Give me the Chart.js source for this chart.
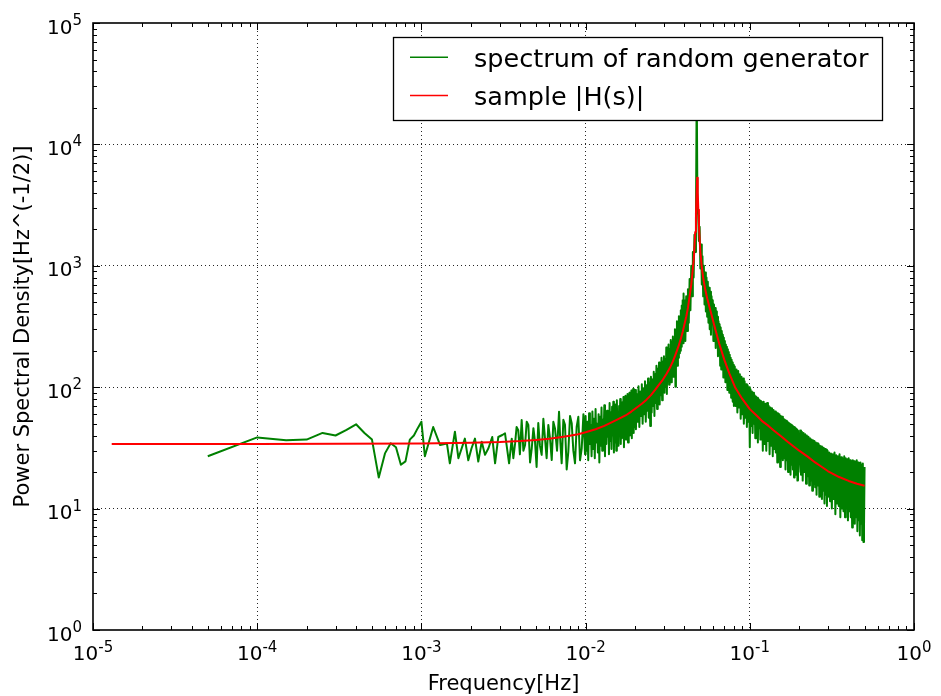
<!DOCTYPE html>
<html>
<head>
<meta charset="utf-8">
<script src="https://cdn.jsdelivr.net/npm/chart.js@4.4.1/dist/chart.umd.min.js"></script>
<style>
html,body{margin:0;padding:0;background:#fff;}
#wrap{width:941px;height:696px;position:relative;}
</style>
</head>
<body>
<div id="wrap"><canvas id="c" width="941" height="696"></canvas></div>
<script>
// ---------- text ----------
const seriesLabels = ['spectrum of random generator', 'sample |H(s)|'];
const xTitle = 'Frequency[Hz]';
const yTitle = 'Power Spectral Density[Hz^(-1/2)]';
const tickBase = '10';
const xTickExponents = [-5, -4, -3, -2, -1, 0];
const yTickExponents = [0, 1, 2, 3, 4, 5];
const minorMultipliers = [1, 2, 3, 4, 5, 6, 7, 8, 9];

// ---------- red: sample |H(s)|  (frequency in mHz) ----------
const redFreq_mHz = [0.013,0.1,1,2,3,4,5,6,7,8,9,
10,11.5,13,14.5,16,17.5,19,20.5,22,23.5,
25,26.5,28,29.5,31,32.5,34,35,36,37,
38,39,40,41,42,43,44,45,45.5,46,
46.5,47,47.4,47.8,48.2,48.6,49,49.5,50,50.9,
52,53.5,55,57.5,60.5,65,70,75,81.3,90,
100,110,120,130,140,155,170,185,200,225,
250,275,300,350,400,450,500];
const redPsd = [34,34,34.3,34.8,35.3,36,36.8,37.6,38.7,39.8,41,
42.5,45,48,51.5,55,58.5,63,68,73,79,
86,95,105,115,128,143,163,180,200,222,
250,285,330,380,450,560,700,950,1100,1400,
1900,2700,3800,5300,4000,2900,2200,1650,1300,1000,
800,640,540,430,330,230,168,130,100,80,
66,58.5,52,48,44,39.5,35.5,32.5,30,26.8,
24,22,20.3,18.2,16.9,16,15.4];

// ---------- green: spectrum of random generator (frequency in mHz) ----------
const greenFreq_mHz = [
0.05,0.1,0.15,0.2,0.25,0.3,0.35,0.4,0.45,0.5,
0.55,0.6,0.65,0.7,0.75,0.8,0.85,0.9,0.95,1.0,
1.05,
1.18,1.30,1.43,1.49,1.60,1.68,1.84,1.93,2.02,2.12,
2.22,2.33,2.44,2.56,2.70,2.81,2.94,3.11,3.23,3.42,
3.55,3.63,3.72,3.80,3.89,3.98,4.08,4.18,4.28,4.38,
4.48,4.59,4.70,4.81,4.92,5.03,5.15,5.27,5.40,5.53,
5.66,5.79,5.93,6.07,6.22,6.36,6.51,6.70,6.89,7.02,
7.15,7.32,7.49,7.67,7.85,8.04,8.23,8.42,8.62,8.82,
9.03,9.25,9.47,9.70,9.92,
10,10.125,10.25,10.375,10.5,10.625,10.75,10.875,11,11.125,
11.25,11.375,11.5,11.625,11.75,11.875,12,12.125,12.25,12.375,
12.5,12.625,12.75,12.875,13,13.125,13.25,13.375,13.5,13.625,
13.75,13.875,14,14.125,14.25,14.375,14.5,14.625,14.75,14.875,
15,15.125,15.25,15.375,15.5,15.625,15.75,15.875,16,16.125,
16.25,16.375,16.5,16.625,16.75,16.875,17,17.125,17.25,17.375,
17.5,17.625,17.75,17.875,18,18.125,18.25,18.375,18.5,18.625,
18.75,18.875,19,19.125,19.25,19.375,19.5,19.625,19.75,19.875,
20,20.25,20.5,20.75,21,21.25,21.5,21.75,22,22.25,
22.5,22.75,23,23.25,23.5,23.75,24,24.25,24.5,24.75,
25,25.25,25.5,25.75,26,26.25,26.5,26.75,27,27.25,
27.5,27.75,28,28.25,28.5,28.75,29,29.25,29.5,29.75,
30,30.25,30.5,30.75,31,31.25,31.5,31.75,32,32.25,
32.5,32.75,33,33.25,33.5,33.75,34,34.25,34.5,34.75,
35,35.25,35.5,35.75,36,36.25,36.5,36.75,37,37.25,
37.5,37.75,38,38.25,38.5,38.75,39,39.25,39.5,39.75,
40,40.5,41,41.5,42,42.5,43,43.5,44,44.5,
45,45.5,46,46.5,47,47.5,48,48.5,49,49.5,
50,50.5,51,51.5,52,52.5,53,53.5,54,54.5,
55,55.5,56,
56.5,57,57.5,58,58.5,59,59.5,60,60.5,61,
61.5,62,62.5,63,63.5,64,64.5,65,65.5,66,
66.5,67,67.5,68,68.5,69,69.5,70,70.5,71,
71.5,72,72.5,73,73.5,74,74.5,75,75.5,76,
76.5,77,77.5,78,78.5,79,79.5,80,
81,82,83,84,85,86,87,88,89,90,
91,92,93,94,95,96,97,98,99,100,
101,102,103,104,105,106,107,108,109,110,
111,112,113,114,115,116,117,118,119,120,
121.5,123,124.5,126,127.5,129,130.5,132,133.5,135,
136.5,138,139.5,141,142.5,144,145.5,147,148.5,150,
151.5,153,154.5,156,157.5,159,160.5,162,163.5,165,
166.5,168,169.5,171,172.5,174,175.5,177,178.5,180,
181.5,183,184.5,186,187.5,189,190.5,192,193.5,195,
196.5,198,
202.5,205,207.5,210,212.5,215,217.5,220,222.5,225,
227.5,230,232.5,235,237.5,240,242.5,245,247.5,250,
252.5,255,257.5,260,262.5,265,267.5,270,272.5,275,
277.5,280,282.5,285,287.5,290,292.5,295,297.5,300,
304,308,312,316,320,324,328,332,336,340,
344,348,352,356,360,364,368,372,376,380,
384,388,392,396,400,404,408,412,416,420,
424,428,432,436,440,444,448,452,456,460,
464,468,472,476,480,484,488,492,496,500];
const greenPsd = [
27,38.6,36.5,37,42,40,44.5,49.5,42,37,
18,28.5,34.5,32,23,24.5,37,40,46,52,
27,
47,33.4,34.4,23.6,43,26,37.7,25,31.4,37.7,
24.4,35.6,27.7,31.4,38.9,23.6,38.9,40.4,41.7,23.6,
37.7,26,34.4,47,44.2,28,53.7,30,33.4,52,
48.9,24,31.4,46,35.6,22,50.6,33,27.7,55,
37.7,26,48.9,38,25.1,52,45.8,30,62.9,35,
23.6,54,48.9,21,29.5,58,50.6,30,23.6,47,
57,25,31.4,60,28,
58,30,52,25,61,34,49,27,63,31,
55,26,66,35,50,29,60,24,57,33,
68,30,54,37,71,27,59,34,64,39,
58,28,74,36,62,31,69,40,76,29,
65,35,72,30,78,41,63,33,70,44,
80,34,68,38,75,45,83,32,71,42,
85,37,74,46,88,35,78,49,90,40,
82,44,94,38,86,52,97,42,89,47,
95,45,88,52,102,47,92,58,106,50,
98,60,112,52,104,64,118,56,110,48,
122,62,116,70,134,58,128,74,150,66,
142,80,160,72,148,86,175,78,162,92,
180,90,170,102,212,88,198,112,225,105,
205,118,245,110,232,128,262,122,250,140,
300,101,285,160,350,150,330,175,385,190,
360,200,430,215,470,240,520,230,590,260,
520,240,560,290,640,340,780,430,1000,560,
1300,800,1800,1300,2400,30000,3000,2600,1600,2100,
950,1500,700,1200,560,1000,480,880,420,800,
380,740,340,
660,300,610,270,560,330,520,240,480,260,
450,210,420,230,380,180,350,200,330,150,
310,140,290,155,270,120,255,135,240,110,
225,115,215,95,205,108,195,90,185,100,
175,82,168,92,160,76,152,70,
148,70,140,62,136,68,128,55,122,60,
118,50,112,56,106,47,104,52,100,32,
96,48,92,42,90,50,86,38,84,44,
82,35,80,46,78,37,77,42,75,30,
76,34,73,30,74,36,70,28,68,33,
67,27,65,31,63,29,62,24,61,30,
60,22,58,28,57,25,55,26,54,21,
53,25,52,20,51,24,50,19,49,23,
48,21,47,18,47,22,46,19,45,17,
44,20,
44,19,43,17,42,20,41,16,40,18.5,
39,15.5,38,17,37,14,36.5,16,36,15,
35,13,34.5,15.5,34,12.5,33,14.5,32.5,12,
32,14,31.5,11,31,13,30.5,10.5,30,12.5,
29,11.5,28.5,10,28,12,29,9,27.5,11,
27,10.5,28,8.5,26.5,10,26,9.5,27,8.5,
26,10,25.5,8,26,9.5,25,8.5,24.5,7,
25,9,24.5,7.5,24,8.5,25,6.5,24,8,
23.5,6,24,7.5,23,5.5,23.5,5.3,7,22];

// ---------- helpers ----------
const FONT = "'DejaVu Sans', sans-serif";
function isDecade(v) { const l = Math.log10(v); return Math.abs(l - Math.round(l)) < 1e-9; }
function logTicks(minExp, maxExp) {
  const t = [];
  for (let e = minExp; e <= maxExp; e++) {
    for (const m of minorMultipliers) {
      if (e === maxExp && m > 1) break;
      t.push({ value: m * Math.pow(10, e), major: m === 1 });
    }
  }
  return t;
}
function gridColor(ctx) {
  const v = ctx.tick && ctx.tick.value;
  if (!v || !isDecade(v)) return 'rgba(0,0,0,0)';
  const s = ctx.scale;
  if (Math.abs(Math.log10(v) - Math.log10(s.min)) < 1e-9 || Math.abs(Math.log10(v) - Math.log10(s.max)) < 1e-9) return 'rgba(0,0,0,0)';
  return 'rgba(0,0,0,0.85)';
}
function drawPower(ctx, e, x, baseY, align) {
  ctx.font = '20px ' + FONT;
  const w1 = ctx.measureText(tickBase).width;
  const sup = String(e);
  ctx.font = '15px ' + FONT;
  const w2 = ctx.measureText(sup).width;
  const total = w1 + w2;
  const x0 = align === 'center' ? x - total / 2 : x - total;
  ctx.font = '20px ' + FONT;
  ctx.fillText(tickBase, x0, baseY);
  ctx.font = '15px ' + FONT;
  ctx.fillText(sup, x0 + w1, baseY - 8.5);
}

const decor = {
  id: 'decor',
  afterDatasetsDraw(chart) {
    const { ctx, chartArea: a } = chart;
    const xs = chart.scales.x, ys = chart.scales.y;
    ctx.save();
    ctx.strokeStyle = '#000';
    ctx.lineWidth = 1;
    ctx.beginPath();
    for (const t of xs.ticks) {
      const p = Math.round(xs.getPixelForValue(t.value)) + 0.5;
      const L = t.major ? 7 : 4;
      ctx.moveTo(p, a.bottom); ctx.lineTo(p, a.bottom - L);
      ctx.moveTo(p, a.top); ctx.lineTo(p, a.top + L);
    }
    for (const t of ys.ticks) {
      const p = Math.round(ys.getPixelForValue(t.value)) + 0.5;
      const L = t.major ? 7 : 4;
      ctx.moveTo(a.left, p); ctx.lineTo(a.left + L, p);
      ctx.moveTo(a.right, p); ctx.lineTo(a.right - L, p);
    }
    ctx.stroke();
    ctx.lineWidth = 1.6;
    ctx.strokeRect(a.left, a.top, a.right - a.left, a.bottom - a.top);
    ctx.fillStyle = '#000';
    ctx.textBaseline = 'alphabetic';
    ctx.textAlign = 'left';
    for (const e of xTickExponents) {
      drawPower(ctx, e, xs.getPixelForValue(Math.pow(10, e)), a.bottom + 30, 'center');
    }
    for (const e of yTickExponents) {
      drawPower(ctx, e, a.left - 11, ys.getPixelForValue(Math.pow(10, e)) + 10.5, 'right');
    }
    ctx.restore();
  },
  afterDraw(chart) {
    const { ctx, chartArea: a } = chart;
    const bx = a.left + 300, by = a.top + 14, bw = 489, bh = 83;
    ctx.save();
    ctx.fillStyle = '#fff';
    ctx.fillRect(bx, by, bw, bh);
    ctx.strokeStyle = '#000';
    ctx.lineWidth = 1.3;
    ctx.strokeRect(bx + 0.5, by + 0.5, bw, bh);
    ctx.font = '25.5px ' + FONT;
    ctx.textBaseline = 'alphabetic';
    ctx.textAlign = 'left';
    chart.data.datasets.forEach((ds, i) => {
      const base = by + 29.7 + i * 38.3;
      ctx.strokeStyle = ds.borderColor;
      ctx.lineWidth = 1.5;
      ctx.beginPath();
      ctx.moveTo(bx + 17, base - 9.4);
      ctx.lineTo(bx + 55, base - 9.4);
      ctx.stroke();
      ctx.fillStyle = '#000';
      ctx.fillText(ds.label, bx + 81, base);
    });
    ctx.restore();
  }
};

Chart.defaults.font.family = FONT;
Chart.defaults.color = '#000';

// frequency arrays are in mHz; the axis is in Hz
const greenData = greenFreq_mHz.map((f, i) => ({ x: f / 1000, y: greenPsd[i] }));
const redData = redFreq_mHz.map((f, i) => ({ x: f / 1000, y: redPsd[i] }));

new Chart(document.getElementById('c'), {
  type: 'line',
  data: {
    datasets: [
      { label: seriesLabels[0], data: greenData, borderColor: '#008000', borderWidth: 2,
        pointRadius: 0, tension: 0, borderJoinStyle: 'round', order: 1 },
      { label: seriesLabels[1], data: redData, borderColor: '#ff0000', borderWidth: 2,
        pointRadius: 0, tension: 0, borderJoinStyle: 'round', order: 0 }
    ]
  },
  options: {
    responsive: false,
    maintainAspectRatio: false,
    devicePixelRatio: 1,
    animation: false,
    events: [],
    layout: { padding: { top: 23, right: 27, left: 0, bottom: 0 } },
    plugins: { legend: { display: false }, tooltip: { enabled: false } },
    scales: {
      x: {
        type: 'logarithmic', min: 1e-5, max: 1,
        afterBuildTicks: s => { s.ticks = logTicks(-5, 0); },
        afterFit: s => { s.height = 66; },
        ticks: { display: false, autoSkip: false },
        grid: { color: gridColor, lineWidth: 1, drawTicks: false },
        border: { display: false, dash: [1, 3] },
        title: { display: true, text: xTitle, color: '#000',
                 font: { size: 21, family: FONT, lineHeight: 1 }, padding: { top: 0, bottom: 0.7 } }
      },
      y: {
        type: 'logarithmic', min: 1, max: 1e5,
        afterBuildTicks: s => { s.ticks = logTicks(0, 5); },
        afterFit: s => { s.width = 93; },
        ticks: { display: false, autoSkip: false },
        grid: { color: gridColor, lineWidth: 1, drawTicks: false },
        border: { display: false, dash: [1, 3] },
        title: { display: true, text: yTitle, color: '#000',
                 font: { size: 21, family: FONT, lineHeight: 1 }, padding: { top: 13.3, bottom: 0 } }
      }
    }
  },
  plugins: [decor]
});
</script>
</body>
</html>
